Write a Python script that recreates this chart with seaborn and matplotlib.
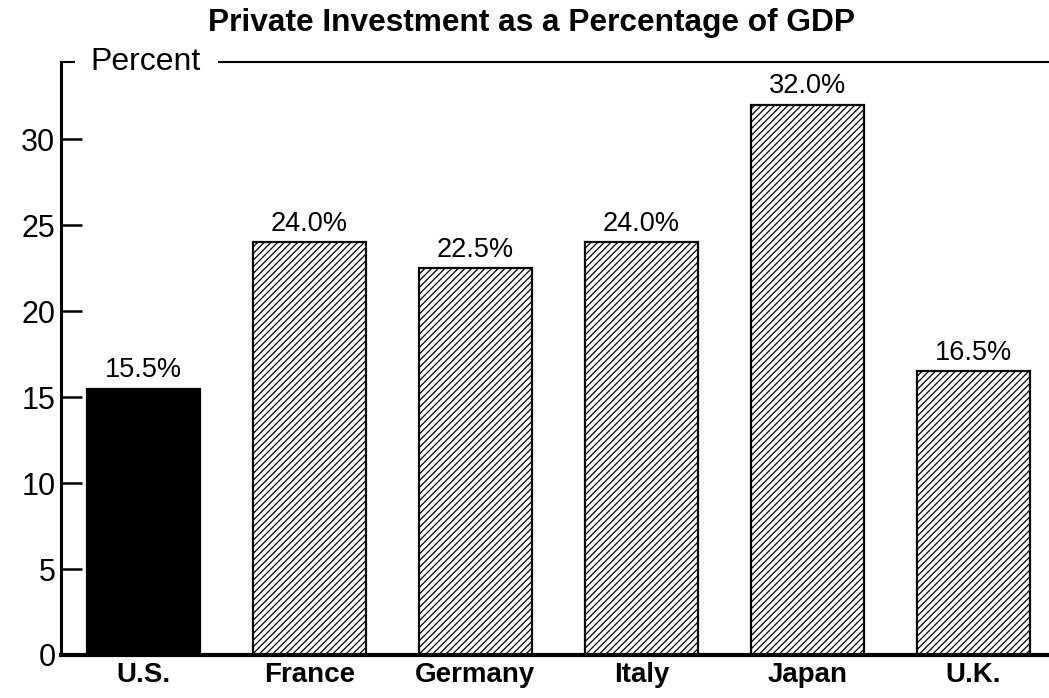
import matplotlib
matplotlib.use("Agg")
import matplotlib.pyplot as plt
import seaborn as sns
import pandas as pd

# Private investment shares of GDP, by country
countries = ["U.S.", "France", "Germany", "Italy", "Japan", "U.K."]
investment_pct = [15.5, 24.0, 22.5, 24.0, 32.0, 16.5]
value_labels = ["15.5%", "24.0%", "22.5%", "24.0%", "32.0%", "16.5%"]
yticks = [0, 5, 10, 15, 20, 25, 30]

sns.set_theme(style="white")
plt.rcParams["font.family"] = ["Liberation Sans", "DejaVu Sans"]
plt.rcParams["hatch.linewidth"] = 0.9
plt.rcParams["hatch.color"] = "black"
for key in ["text.color", "xtick.color", "ytick.color", "axes.labelcolor",
            "axes.edgecolor"]:
    plt.rcParams[key] = "black"

df = pd.DataFrame({"country": countries, "pct": investment_pct})
palette = {c: ("black" if c == "U.S." else "white") for c in countries}

fig = plt.figure(figsize=(10.49, 6.98), dpi=100)
ax = fig.add_axes([61 / 1049, 43 / 698, 988 / 1049, 593 / 698])

sns.barplot(data=df, x="country", y="pct", hue="country", palette=palette,
            legend=False, width=0.68, edgecolor="black", linewidth=1.6,
            saturation=1, ax=ax)

for patch, c in zip(ax.patches, countries):
    if c != "U.S.":
        patch.set_hatch("/" * 5)

for patch, lab in zip(ax.patches, value_labels):
    ax.annotate(lab, (patch.get_x() + patch.get_width() / 2, patch.get_height()),
                xytext=(0, 4), textcoords="offset points",
                ha="center", va="bottom", fontsize=19.5, color="black")

ax.set_xlim(-0.497, 5.455)
ax.set_ylim(0, 34.5)
ax.set_yticks(yticks)
ax.set_yticklabels([str(t) for t in yticks], fontsize=22)
ax.set_xlabel("")
ax.set_ylabel("")
ax.tick_params(axis="y", direction="in", length=15, width=1.8, pad=4, left=True,
               colors="black")
ax.tick_params(axis="x", length=0, pad=5, colors="black")
for lbl in ax.get_xticklabels():
    lbl.set_fontweight("bold")
    lbl.set_fontsize(20)
    lbl.set_color("black")
for lbl in ax.get_yticklabels():
    lbl.set_color("black")

for side in ["top", "right"]:
    ax.spines[side].set_visible(False)
ax.spines["left"].set_linewidth(2.2)
ax.spines["bottom"].set_linewidth(3)

# Top rule interrupted by the unit label
ax.plot([0, 14 / 988], [1, 1], transform=ax.transAxes, color="black",
        lw=1.5, clip_on=False, solid_capstyle="butt")
ax.plot([157 / 988, 1], [1, 1], transform=ax.transAxes, color="black",
        lw=1.5, clip_on=False, solid_capstyle="butt")
ax.text(29 / 988, 1, "Percent", transform=ax.transAxes, fontsize=23,
        ha="left", va="center", color="black")

fig.text(531 / 1049, 1 - 23 / 698, "Private Investment as a Percentage of GDP",
         ha="center", va="center", fontsize=22.8, fontweight="bold",
         color="black")

fig.savefig("out.png", dpi=100, facecolor="white")
